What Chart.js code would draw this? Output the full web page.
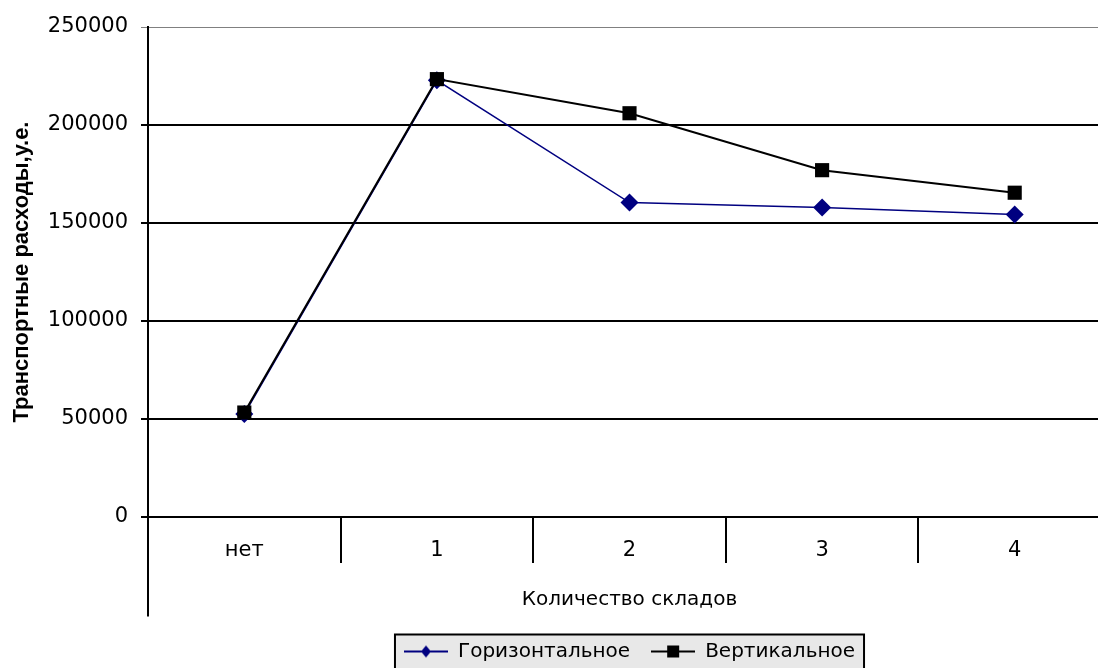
<!DOCTYPE html>
<html>
<head>
<meta charset="utf-8">
<script src="https://cdn.jsdelivr.net/npm/chart.js@4.4.1/dist/chart.umd.min.js"></script>
<style>
  html, body { margin: 0; padding: 0; background: #fff; overflow: hidden; }
  #wrap { width: 1121px; height: 668px; }
</style>
</head>
<body>
<div id="wrap"><canvas id="c" width="1121" height="668"></canvas></div>
<script>
// ---- data ----
const categories = ['нет', '1', '2', '3', '4'];
const horizontalValues = [52500, 222800, 160400, 157850, 154300];
const verticalValues = [53300, 223400, 206000, 176950, 165450];
const seriesNames = ['Горизонтальное', 'Вертикальное'];
const yTicks = [0, 50000, 100000, 150000, 200000, 250000];
const yTitle = 'Транспортные расходы,у.е.';
const xTitle = 'Количество складов';

const FONT = '"DejaVu Sans", "Liberation Sans", Arial, sans-serif';
const TITLE_FONT = '"Liberation Sans", Arial, sans-serif';
const NAVY = '#000080';

function legendSymbol(color, kind) {
  const c = document.createElement('canvas');
  c.width = 44; c.height = 16;
  const g = c.getContext('2d');
  g.strokeStyle = color; g.lineWidth = 2;
  g.beginPath(); g.moveTo(0, 8); g.lineTo(44, 8); g.stroke();
  g.fillStyle = color;
  if (kind === 'diamond') {
    g.beginPath(); g.moveTo(22, 2); g.lineTo(27, 8); g.lineTo(22, 14); g.lineTo(17, 8); g.closePath(); g.fill();
  } else {
    g.fillRect(16, 2, 12, 12);
  }
  return c;
}
const symbols = [legendSymbol(NAVY, 'diamond'), legendSymbol('#000', 'square')];

const bgPlugin = {
  id: 'bg',
  beforeDraw(chart) {
    const ctx = chart.ctx;
    ctx.save();
    ctx.fillStyle = '#fff';
    ctx.fillRect(0, 0, chart.width, chart.height);
    const lg = chart.legend;
    if (lg && lg.legendHitBoxes && lg.legendHitBoxes.length) {
      const hb = lg.legendHitBoxes;
      const l = Math.min(...hb.map(h => h.left)) - 9;
      const r = Math.max(...hb.map(h => h.left + h.width)) + 9;
      const t = hb[0].top + hb[0].height / 2 - 17;
      ctx.fillStyle = '#e8e8e8';
      ctx.fillRect(l, t, r - l, chart.height - t + 10);
      ctx.strokeStyle = '#000';
      ctx.lineWidth = 2;
      ctx.strokeRect(l, t, r - l, chart.height - t + 10);
    }
    ctx.restore();
  },
  afterDraw(chart) {
    const x = chart.scales.x;
    const ctx = chart.ctx;
    ctx.save();
    ctx.strokeStyle = '#000';
    ctx.lineWidth = 2;
    ctx.beginPath();
    ctx.moveTo(x.left, x.top);
    ctx.lineTo(x.left, x.bottom - 4);
    ctx.stroke();
    ctx.restore();
  }
};

new Chart(document.getElementById('c'), {
  type: 'line',
  data: {
    labels: categories,
    datasets: [
      {
        label: seriesNames[0],
        data: horizontalValues,
        borderColor: NAVY,
        backgroundColor: NAVY,
        borderWidth: 1.5,
        pointStyle: 'rectRot',
        pointRadius: 9,
        pointHoverRadius: 9,
        pointBorderWidth: 0,
        tension: 0,
        order: 1
      },
      {
        label: seriesNames[1],
        data: verticalValues,
        borderColor: '#000',
        backgroundColor: '#000',
        borderWidth: 2,
        pointStyle: 'rect',
        pointRadius: 10,
        pointHoverRadius: 10,
        pointBorderWidth: 0,
        tension: 0,
        order: 0
      }
    ]
  },
  options: {
    responsive: false,
    animation: false,
    devicePixelRatio: 1,
    layout: { padding: { top: 27, left: 0, right: 0, bottom: -3.5 } },
    plugins: {
      tooltip: { enabled: false },
      legend: {
        position: 'bottom',
        fullSize: false,
        labels: {
          usePointStyle: true,
          pointStyleWidth: 44,
          padding: 21,
          color: '#000',
          font: { family: FONT, size: 20 },
          sort: (a, b) => a.datasetIndex - b.datasetIndex,
          generateLabels(chart) {
            const items = Chart.defaults.plugins.legend.labels.generateLabels(chart);
            items.forEach(it => { it.pointStyle = symbols[it.datasetIndex]; });
            return items;
          }
        }
      }
    },
    scales: {
      x: {
        type: 'category',
        offset: true,
        afterFit(scale) { scale.height = 103.5; },
        grid: {
          offset: true,
          drawOnChartArea: false,
          drawTicks: true,
          tickLength: 46,
          color: '#000',
          lineWidth: 2
        },
        border: { display: true, color: '#000', width: 2 },
        ticks: {
          color: '#000',
          padding: -25,
          font: { family: FONT, size: 21 }
        },
        title: {
          display: true,
          text: xTitle,
          color: '#000',
          font: { family: FONT, size: 20 },
          padding: { top: 0, bottom: 9 }
        }
      },
      y: {
        min: 0,
        max: 250000,
        afterFit(scale) { scale.width = 148; },
        afterBuildTicks(scale) { scale.ticks = yTicks.map(v => ({ value: v })); },
        grid: {
          color: ctx => (ctx.tick && ctx.tick.value === 250000) ? '#808080' : '#000',
          lineWidth: ctx => (ctx.tick && ctx.tick.value === 250000) ? 1 : 2,
          tickLength: 7,
          drawTicks: true
        },
        border: { display: true, color: '#000', width: 2 },
        ticks: {
          color: '#000',
          padding: 13,
          font: { family: FONT, size: 21 },
          callback: v => String(v)
        },
        title: {
          display: true,
          text: yTitle,
          color: '#000',
          font: { family: TITLE_FONT, size: 22, weight: 'bold' },
          padding: { top: 9, bottom: 0 }
        }
      }
    }
  },
  plugins: [bgPlugin]
});
</script>
</body>
</html>
